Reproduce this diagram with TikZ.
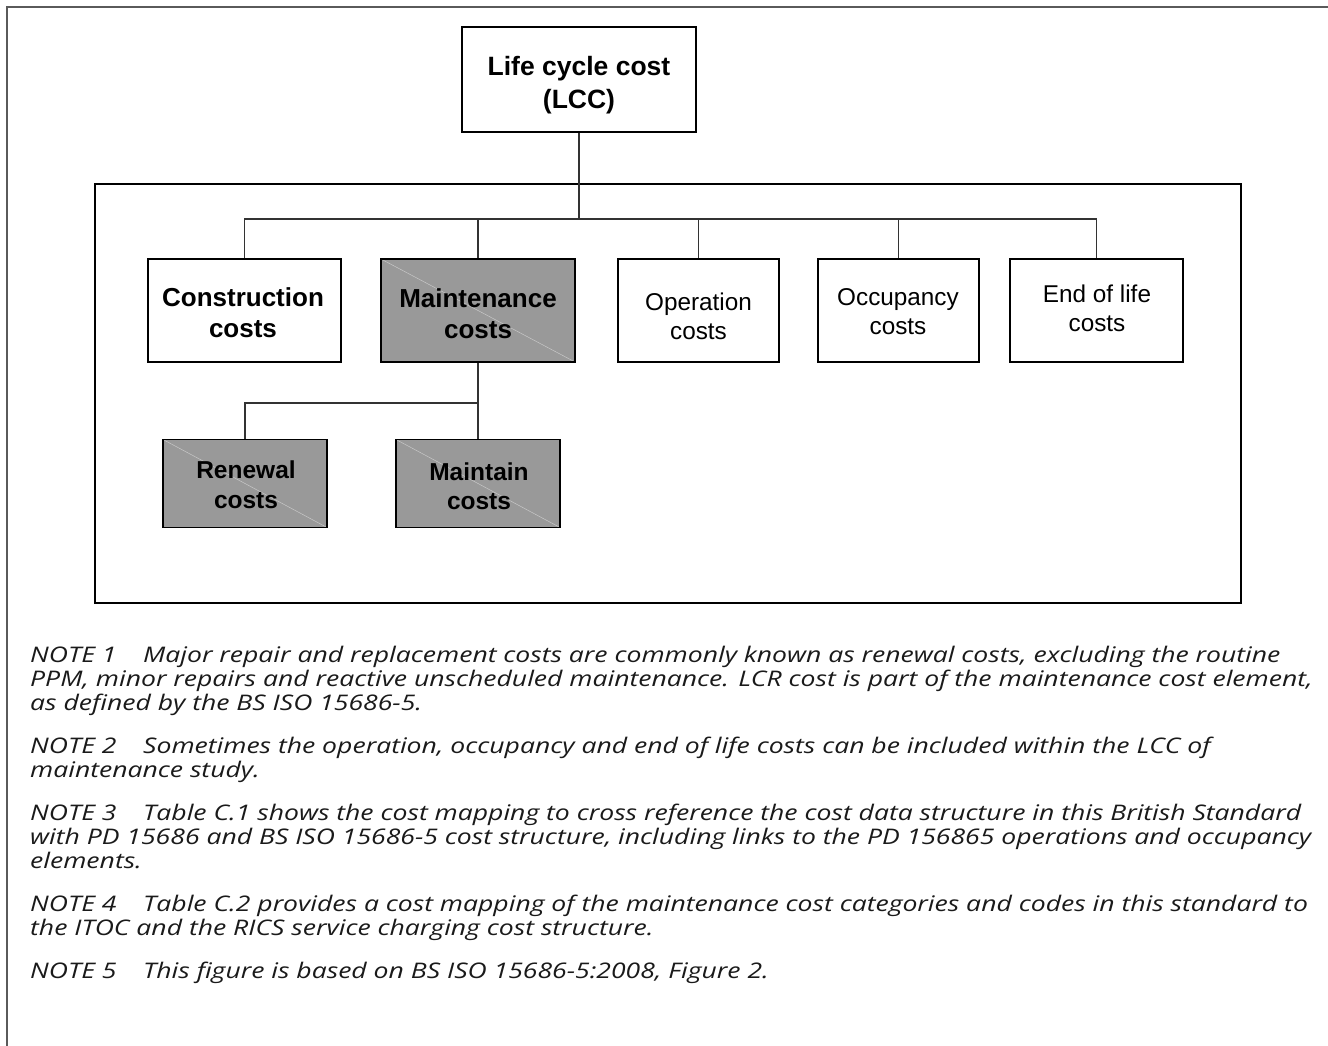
\documentclass[tikz,border=0pt]{standalone}
\usepackage{fontspec}
\setmainfont{Open Sans}
\newfontfamily\boxfont{Liberation Sans}
\newfontfamily\notefont[FakeStretch=1.235]{Open Sans}
\definecolor{framegray}{HTML}{5A5A5A}
\definecolor{boxgray}{HTML}{999999}
\definecolor{linegray}{HTML}{333333}
\definecolor{diaggray}{HTML}{C8C8C8}
\definecolor{notetextcol}{HTML}{1A1A1A}
\begin{document}
\begin{tikzpicture}[x=1pt,y=-1pt,
  box/.style={draw=black, line width=1.8pt, fill=white, inner sep=0pt},
  greybox/.style={box, fill=boxgray,
    path picture={\draw[diaggray, line width=0.5pt]
      (path picture bounding box.north west) -- (path picture bounding box.south east);}},
  reglabel/.style={inner sep=0pt, align=center, font=\boxfont\fontsize{24.3}{29}\selectfont},
  boldlabel/.style={inner sep=0pt, align=center, font=\boxfont\bfseries\fontsize{26}{31}\selectfont},
  smalllabel/.style={inner sep=0pt, align=center, font=\boxfont\bfseries\fontsize{24.5}{29.5}\selectfont},
  conn/.style={draw=linegray, line width=1.2pt},
  note/.style={anchor=base west, inner sep=0pt, text=notetextcol,
    font=\notefont\itshape\fontsize{21.5}{24}\selectfont}]
\useasboundingbox (0,0) rectangle (1328,1046);
% outer frame (only top and left visible)
\draw[framegray, line width=2.4pt] (7,1046) -- (7,7) -- (1328,7);
% inner frame
\draw[black, line width=1.8pt] (95,184) rectangle (1241,603);

% boxes
\node[box, minimum width=234pt, minimum height=105pt] (lcc) at (579,79.5) {};
\node[box, minimum width=193pt, minimum height=103pt] (con) at (244.5,310.5) {};
\node[greybox, minimum width=194pt, minimum height=103pt] (mnt) at (478,310.5) {};
\node[box, minimum width=161pt, minimum height=103pt] (opr) at (698.5,310.5) {};
\node[box, minimum width=161pt, minimum height=103pt] (occ) at (898.5,310.5) {};
\node[box, minimum width=173pt, minimum height=103pt] (eol) at (1096.5,310.5) {};
\node[greybox, minimum width=164pt, minimum height=88pt] (ren) at (245,483.5) {};
\node[greybox, minimum width=164pt, minimum height=88pt] (mtn) at (478,483.5) {};

% labels
\node[boldlabel, font=\boxfont\bfseries\fontsize{26.5}{33}\selectfont] (lcct) at (579,85) {Life cycle cost\\(LCC)};
\node[boldlabel] (cont) at (243,312.5) {Construction\\costs};
\node[boldlabel] (mntt) at (478,313.5) {Maintenance\\costs};
\node[reglabel] (oprt) at (698.5,316.5) {Operation\\costs};
\node[reglabel] (occt) at (898,311.5) {Occupancy\\costs};
\node[reglabel] (eolt) at (1097,308.5) {End of life\\costs};
\node[smalllabel] (rent) at (246,484.5) {Renewal\\costs};
\node[smalllabel] (mtnt) at (479,486) {Maintain\\costs};

% connectors
\coordinate (bus) at (579,219);
\coordinate (bus2) at (478,403);
\draw[conn] (lcc.south) -- (bus);
\draw[conn] (con.north) |- (bus) -| (eol.north);
\draw[conn] (mnt.north) -- (mnt.north |- bus);
\draw[conn] (opr.north) -- (opr.north |- bus);
\draw[conn] (occ.north) -- (occ.north |- bus);
\draw[conn] (mnt.south) -- (mtn.north);
\draw[conn] (ren.north) |- (bus2);

% notes
\node[note] (n1h) at (30,662) {NOTE 1};
\node[note] (n1a) at (143,662) {Major repair and replacement costs are commonly known as renewal costs, excluding the routine};
\node[note] (n1b) at (30,686) {PPM, minor repairs and reactive unscheduled maintenance. LCR cost is part of the maintenance cost element,};
\node[note] (n1c) at (30,710) {as defined by the BS ISO 15686-5.};

\node[note] (n2h) at (30,753) {NOTE 2};
\node[note] (n2a) at (143,753) {Sometimes the operation, occupancy and end of life costs can be included within the LCC of};
\node[note] (n2b) at (30,777) {maintenance study.};

\node[note] (n3h) at (30,820) {NOTE 3};
\node[note] (n3a) at (143,820) {Table C.1 shows the cost mapping to cross reference the cost data structure in this British Standard};
\node[note] (n3b) at (30,844) {with PD 15686 and BS ISO 15686-5 cost structure, including links to the PD 156865 operations and occupancy};
\node[note] (n3c) at (30,868) {elements.};

\node[note] (n4h) at (30,911) {NOTE 4};
\node[note] (n4a) at (143,911) {Table C.2 provides a cost mapping of the maintenance cost categories and codes in this standard to};
\node[note] (n4b) at (30,935) {the ITOC and the RICS service charging cost structure.};

\node[note] (n5h) at (30,978) {NOTE 5};
\node[note] (n5a) at (143,978) {This figure is based on BS ISO 15686-5:2008, Figure 2.};
\end{tikzpicture}
\end{document}
